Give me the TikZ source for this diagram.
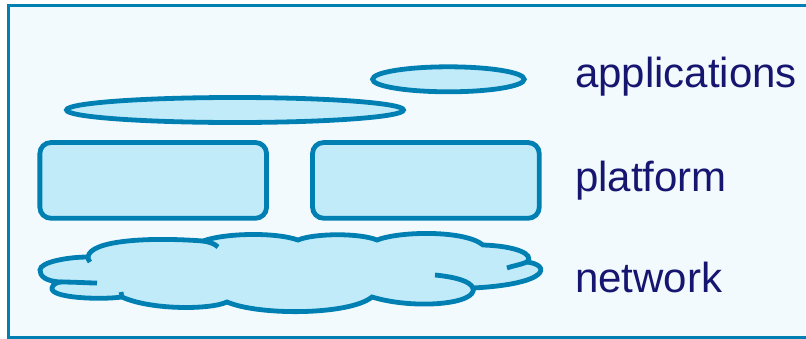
\documentclass[tikz,border=0pt]{standalone}
\usepackage{fontspec}
\setmainfont{Liberation Sans}
\usetikzlibrary{shapes.geometric}
\definecolor{edgeblue}{RGB}{0,128,178}
\definecolor{shapefill}{RGB}{194,235,250}
\definecolor{bgfill}{RGB}{243,250,254}
\definecolor{labelnavy}{RGB}{22,22,112}
\tikzset{
  shapeline/.style={draw=edgeblue, line width=4.8pt, fill=shapefill},
  flatoval/.style={shapeline, ellipse, inner sep=0pt, outer sep=0pt},
  layerbox/.style={shapeline, rectangle, rounded corners=11pt, inner sep=0pt, outer sep=0pt},
  layerlabel/.style={anchor=base west, inner sep=0pt, text=labelnavy, font=\fontsize{42}{48}\selectfont},
  cloudline/.style={draw=edgeblue, line width=4.8pt},
}
\begin{document}
\begin{tikzpicture}[x=1pt, y=-1pt]
\useasboundingbox (0,0) rectangle (806,338);
\clip (0,0) rectangle (806,338);
% frame
\draw[fill=bgfill, draw=edgeblue, line width=3.2pt] (8.5,5.5) rectangle (830,337.5);
% applications
\node[flatoval, minimum width=151.6pt, minimum height=25pt] (appsmall) at (448.4,79.3) {};
\node[flatoval, minimum width=337pt, minimum height=25pt] (applarge) at (235,110) {};
% platform
\node[layerbox, minimum width=226.7pt, minimum height=75.7pt] (platleft) at (153.2,180.4) {};
\node[layerbox, minimum width=226.7pt, minimum height=75.7pt] (platright) at (425.9,180.4) {};
% network cloud
\path[fill=shapefill] (40,270) .. controls (40,262) and (68,257) .. (88,257)
 .. controls (90,240) and (150,237) .. (203,241)
 .. controls (225,233) and (275,232) .. (298,240)
 .. controls (315,233) and (360,233) .. (377,240)
 .. controls (400,231) and (465,230) .. (483,245)
 .. controls (515,246) and (535,254) .. (527,262)
 .. controls (551,265) and (550,284) .. (473,288)
 .. controls (478,304) and (415,310) .. (372,297)
 .. controls (350,315) and (260,316) .. (227,302)
 .. controls (210,310) and (150,310) .. (122,297)
 .. controls (100,300) and (50,298) .. (52,288)
 .. controls (53,284) and (56,283) .. (60,282)
 .. controls (45,281) and (40,276) .. (40,270) -- cycle;
\draw[cloudline] (40,270) .. controls (40,262) and (68,257) .. (88,257)
 .. controls (90,240) and (150,237) .. (203,241)
 .. controls (225,233) and (275,232) .. (298,240)
 .. controls (315,233) and (360,233) .. (377,240)
 .. controls (400,231) and (465,230) .. (483,245)
 .. controls (515,246) and (535,254) .. (527,262)
 .. controls (551,265) and (550,284) .. (473,288)
 .. controls (478,304) and (415,310) .. (372,297)
 .. controls (350,315) and (260,316) .. (227,302)
 .. controls (210,310) and (150,310) .. (122,297)
 .. controls (100,300) and (50,298) .. (52,288)
 .. controls (53,284) and (56,283) .. (60,282)
 .. controls (45,281) and (40,276) .. (40,270) -- cycle;
% inner strokes of the cloud
\draw[cloudline] (203,241) .. controls (210,242) and (215,244) .. (218,247);
\draw[cloudline] (527,262) .. controls (520,265) and (512,266) .. (507,268);
\draw[cloudline] (435,275) .. controls (455,277) and (470,281) .. (473,288);
\draw[cloudline] (60,282) .. controls (75,282) and (88,283) .. (97,283);
\draw[cloudline] (88,257) .. controls (88,259) .. (90,262);
\draw[cloudline] (122,297) .. controls (122,295) .. (121,292);
% labels
\node[layerlabel] (lblapps) at (575,87) {applications};
\node[layerlabel] (lblplat) at (575,191) {platform};
\node[layerlabel] (lblnet) at (575,292) {network};
\end{tikzpicture}
\end{document}
